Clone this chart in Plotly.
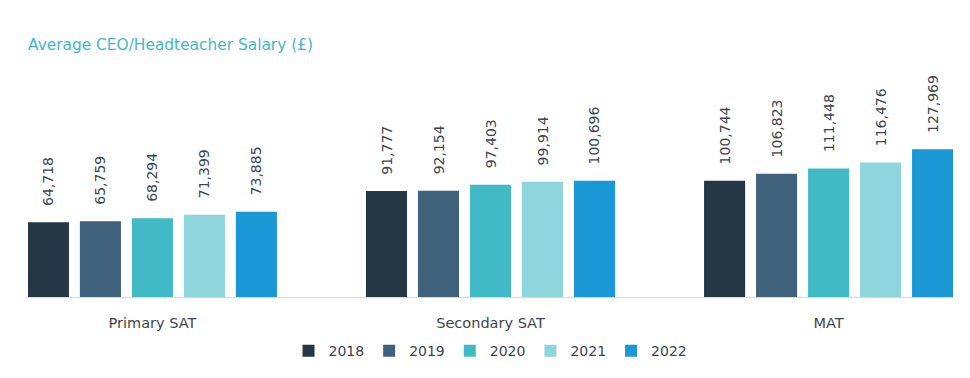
import plotly.graph_objects as go

categories = ["Primary SAT", "Secondary SAT", "MAT"]
years = ["2018", "2019", "2020", "2021", "2022"]
salary_2018 = [64718, 91777, 100744]
salary_2019 = [65759, 92154, 106823]
salary_2020 = [68294, 97403, 111448]
salary_2021 = [71399, 99914, 116476]
salary_2022 = [73885, 100696, 127969]
series = [salary_2018, salary_2019, salary_2020, salary_2021, salary_2022]
colors = ["#253645", "#40617c", "#42bac6", "#8fd5dd", "#1a98d5"]

FONT = "Tahoma, DejaVu Sans, sans-serif"
TEXT_COLOR = "#3d4650"

W, H = 962, 370  # page body adds an 8px offset

fig = go.Figure()
for year, vals, col in zip(years, series, colors):
    fig.add_trace(go.Bar(
        name=year,
        x=categories,
        y=vals,
        marker=dict(color=col, line=dict(width=0)),
        text=[f"{v:,}" for v in vals],
        texttemplate="\u00a0\u00a0\u00a0%{text}",
        textposition="outside",
        textangle=-90,
        constraintext="none",
        cliponaxis=False,
        textfont=dict(family=FONT, size=14, color=TEXT_COLOR),
        hoverinfo="skip",
    ))

fig.update_layout(
    width=W,
    height=H,
    margin=dict(l=20, r=17, t=72, b=80),
    paper_bgcolor="white",
    plot_bgcolor="white",
    barmode="group",
    bargap=0.231,
    bargroupgap=0.21,
    title=dict(
        text="Average CEO/Headteacher Salary (£)",
        x=20 / W, xanchor="left",
        y=1 - 37 / H, yanchor="middle",
        font=dict(family=FONT, size=15.4, color="#46b8c8"),
    ),
    showlegend=True,
    legend=dict(
        orientation="h",
        x=0.5, xanchor="center",
        y=-0.17, yanchor="top",
        font=dict(family=FONT, size=14, color=TEXT_COLOR),
        itemwidth=30,
        traceorder="normal",
    ),
    xaxis=dict(
        type="category",
        range=[-0.368, 2.368],
        showline=True,
        linecolor="#d9d9d9",
        linewidth=1,
        showgrid=False,
        ticks="",
        ticklabelstandoff=13,
        tickfont=dict(family=FONT, size=14.5, color=TEXT_COLOR),
        fixedrange=True,
    ),
    yaxis=dict(
        range=[0, 188093],
        visible=False,
        showgrid=False,
        zeroline=False,
        fixedrange=True,
    ),
)

fig.write_html("out.html")
